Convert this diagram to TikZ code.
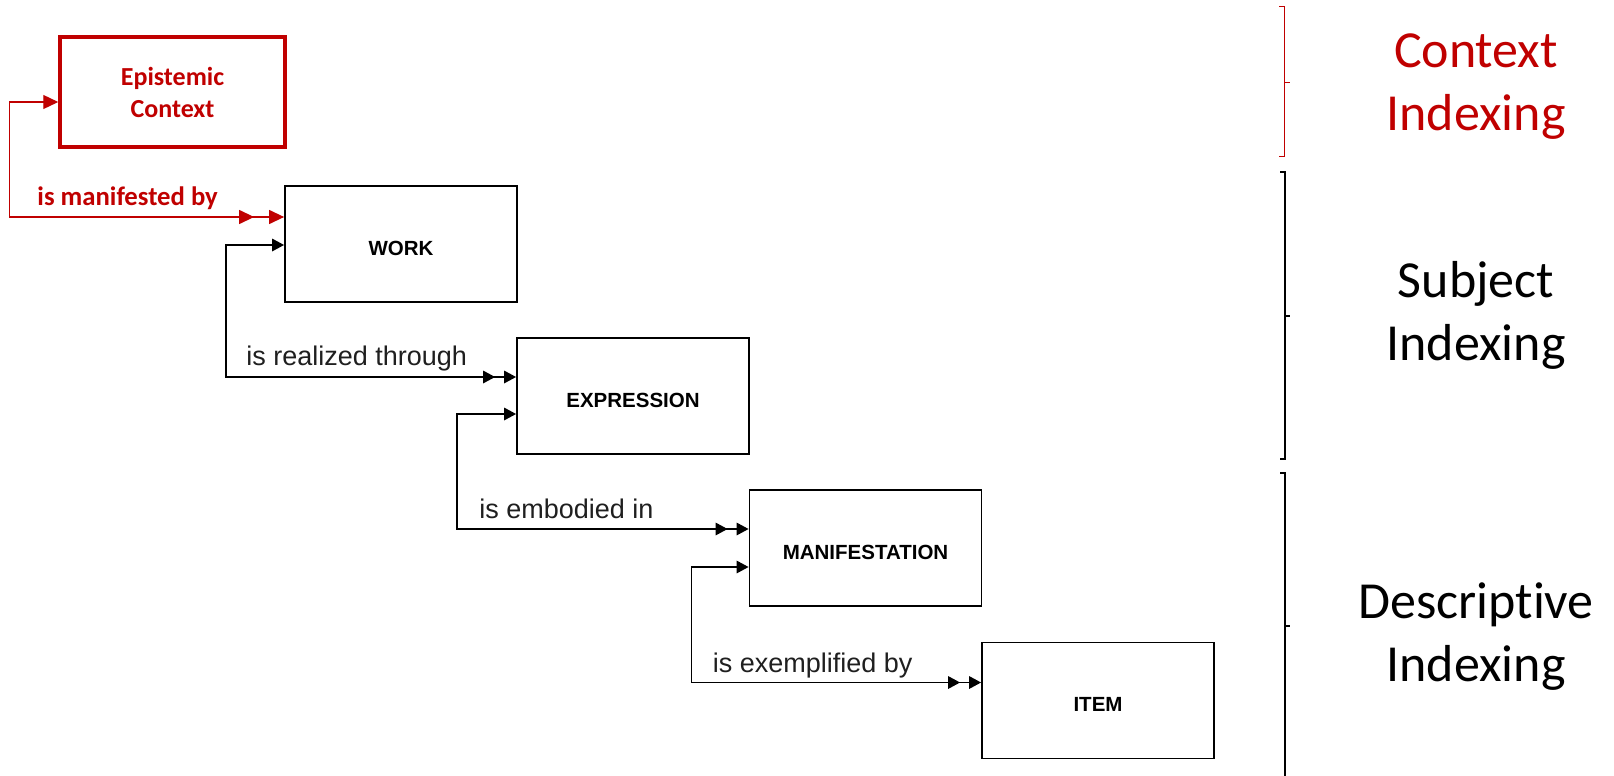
\documentclass[tikz,border=0pt]{standalone}
\usepackage{fontspec}
\setmainfont{Liberation Sans}
\newfontfamily\carlito[RawFeature={-liga;-clig;-calt;-dlig}]{Carlito}
\usetikzlibrary{arrows.meta}
\definecolor{ctxred}{HTML}{C00000}

\begin{document}
\begin{tikzpicture}[x=1pt,y=-1pt,
  btip/.tip={Triangle[length=12pt,width=12.5pt]},
  bdouble/.tip={Triangle[length=12pt,width=12.5pt,sep=9pt]Triangle[length=12pt,width=12.5pt]},
  rtip/.tip={Triangle[length=15pt,width=14pt]},
  rdouble/.tip={Triangle[length=15pt,width=14pt,sep=15pt]Triangle[length=15pt,width=14pt]},
  entity/.style={draw=black, line width=1.8pt, minimum width=232pt, minimum height=116pt,
    inner sep=0pt, font=\fontsize{20.5}{24}\selectfont\bfseries, text height=22pt, text depth=0pt},
  epibox/.style={draw=ctxred, line width=3.5pt, minimum width=225pt, minimum height=110pt,
    inner sep=0pt, text=ctxred, align=center, font=\carlito\bfseries\fontsize{26}{32}\selectfont},
  rel/.style={line width=1.6pt, {btip}-{bdouble}},
  redrel/.style={draw=ctxred, line width=1.3pt, {rtip}-{rdouble}},
  lbl/.style={font=\fontsize{27}{32}\selectfont, inner sep=0pt, anchor=base west, text=black!88},
  redlbl/.style={font=\carlito\bfseries\fontsize{26.7}{32}\selectfont, text=ctxred, inner sep=0pt, anchor=base west},
  side/.style={inner sep=0pt, anchor=base},
  bracket/.style={line width=1.8pt}
]
\useasboundingbox (0,0) rectangle (1614,776);

% entities
\node[epibox] (epi) at (172.5,92) {Epistemic\\Context};
\node[entity] (work)  at (401,244)   {WORK};
\node[entity] (expr)  at (633,396)   {EXPRESSION};
\node[entity] (manif) at (865.5,548) {MANIFESTATION};
\node[entity] (item)  at (1098,700.5){ITEM};

% epistemic context -> work
\coordinate (r0) at ([yshift=-10pt]epi.west);
\coordinate (r1) at ([yshift=27pt]work.west);
\draw[redrel] (r0) -- ++(-49,0) coordinate (rv) |- (r1);
\node[redlbl] at ([xshift=28pt,yshift=12pt]rv |- r1) {is manifested by};

% work -> expression
\coordinate (w0) at ([yshift=-1pt]work.west);
\coordinate (e1) at ([yshift=19pt]expr.west);
\draw[rel] (w0) -- ++(-58,0) coordinate (v1) |- (e1);
\node[lbl] at ([xshift=20pt,yshift=12pt]v1 |- e1) {is realized through};

% expression -> manifestation
\coordinate (e0) at ([yshift=-18pt]expr.west);
\coordinate (m1) at ([yshift=19pt]manif.west);
\draw[rel] (e0) -- ++(-59,0) coordinate (v2) |- (m1);
\node[lbl] at ([xshift=22pt,yshift=11pt]v2 |- m1) {is embodied in};

% manifestation -> item
\coordinate (m0) at ([yshift=-19pt]manif.west);
\coordinate (i1) at ([yshift=18pt]item.west);
\draw[rel] (m0) -- ++(-57,0) coordinate (v3) |- (i1);
\node[lbl] at ([xshift=21pt,yshift=10pt]v3 |- i1) {is exemplified by};

% indexing levels
\draw[ctxred, line width=1pt] (1279,7) -- (1284,7) -- (1284,156) -- (1279,156);
\draw[ctxred, line width=1pt] (1284,82) -- (1290,82);
\draw[bracket] (1280,172) -- (1285,172) -- (1285,459) -- (1280,459);
\draw[bracket] (1285,316) -- (1290,316);
\draw[bracket] (1280,473) -- (1285,473) -- (1285,780);
\draw[bracket] (1285,626) -- (1290,626);

\node[side, text=ctxred] (ctx) at (1476,67)
  {\carlito\fontsize{52}{63}\selectfont\begin{tabular}[t]{@{}c@{}}Context\\Indexing\end{tabular}};
\node[side] (subj) at (1476,297)
  {\carlito\fontsize{52}{63}\selectfont\begin{tabular}[t]{@{}c@{}}Subject\\Indexing\end{tabular}};
\node[side] (desc) at (1476,618)
  {\carlito\fontsize{52}{63}\selectfont\begin{tabular}[t]{@{}c@{}}Descriptive\\Indexing\end{tabular}};
\end{tikzpicture}
\end{document}
